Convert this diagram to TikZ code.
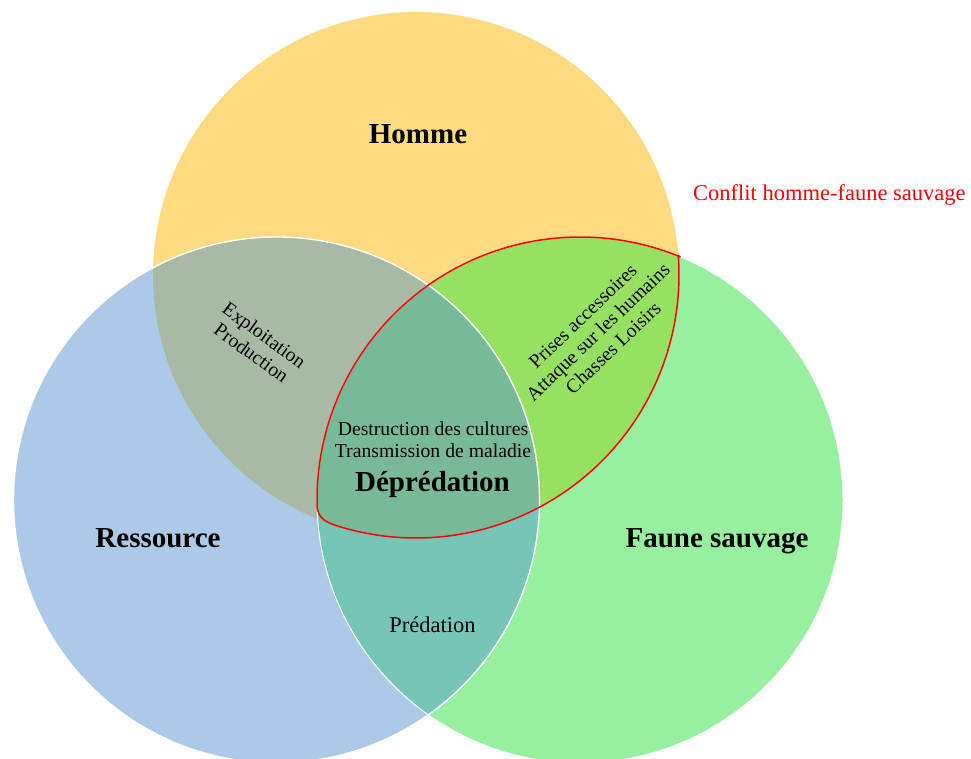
\documentclass[tikz,border=0pt]{standalone}
\usepackage{fontspec}
\setmainfont{Liberation Serif}
\usetikzlibrary{calc}
\definecolor{hcol}{RGB}{254,218,128}
\definecolor{rcol}{RGB}{172,202,232}
\definecolor{fcol}{RGB}{150,240,160}
\definecolor{hrcol}{RGB}{168,186,166}
\definecolor{hfcol}{RGB}{150,224,98}
\definecolor{rfcol}{RGB}{118,198,184}
\definecolor{allcol}{RGB}{120,186,152}
\definecolor{conflit}{RGB}{255,0,0}
\tikzset{
  bigl/.style={font=\fontsize{29}{34}\selectfont\bfseries, anchor=base, inner sep=0pt},
  smallt/.style={font=\fontsize{19.7}{22}\selectfont, inner sep=0pt},
  midt/.style={font=\fontsize{22.5}{26}\selectfont, inner sep=0pt},
}
\begin{document}
\begin{tikzpicture}[x=1pt,y=1pt]
\useasboundingbox (0,0) rectangle (971,758);
\clip (0,0) rectangle (971,758);
\coordinate (H) at (416,483);
\coordinate (R) at (276.5,258);
\coordinate (F) at (580,258);
\def\rad{263pt}
% base circles
\fill[hcol] (H) circle[radius=\rad];
\fill[rcol] (R) circle[radius=\rad];
\fill[fcol] (F) circle[radius=\rad];
% overlaps
\begin{scope}\clip (H) circle[radius=\rad]; \fill[hrcol] (R) circle[radius=\rad];\end{scope}
\begin{scope}\clip (H) circle[radius=\rad]; \fill[hfcol] (F) circle[radius=\rad];\end{scope}
\begin{scope}\clip (R) circle[radius=\rad]; \fill[rfcol] (F) circle[radius=\rad];\end{scope}
\begin{scope}\clip (H) circle[radius=\rad]; \clip (R) circle[radius=\rad]; \fill[allcol] (F) circle[radius=\rad];\end{scope}
% white outlines
\draw[white, line width=1pt] (F) circle[radius=\rad];
\draw[white, line width=1.4pt] (R) circle[radius=\rad];
% red conflict outline
\coordinate (c1) at ($(F)+(67.6:263pt)$);
\draw[conflit, line width=1.5pt, line join=round]
  (c1)
  arc[start angle=67.6, end angle=181, radius=\rad]
  .. controls (317,238) and (329,234.3) .. (343.5,230.2)
  arc[start angle=-106, end angle=4.3, radius=\rad] -- cycle;
% labels
\node[bigl] (homme) at (418,614) {Homme};
\node[bigl] (ress) at (158,211) {Ressource};
\node[bigl] (faune) at (717,211) {Faune sauvage};
\node[smallt, align=center, rotate=-36] (expl) at (258,414) {Exploitation\\Production};
\node[smallt, align=center, rotate=43.6] (prises) at (598,426) {Prises accessoires\\Attaque sur les humains\\Chasses Loisirs};
\node[smallt, anchor=base] (destr) at (433,322) {Destruction des cultures};
\node[smallt, anchor=base] (trans) at (433,300) {Transmission de maladie};
\node[bigl] (depred) at (432.5,266) {Déprédation};
\node[midt, anchor=base] (pred) at (432.5,126) {Prédation};
\node[midt, anchor=base west, text=conflit] (conf) at (693,557) {Conflit homme-faune sauvage};
\end{tikzpicture}
\end{document}
